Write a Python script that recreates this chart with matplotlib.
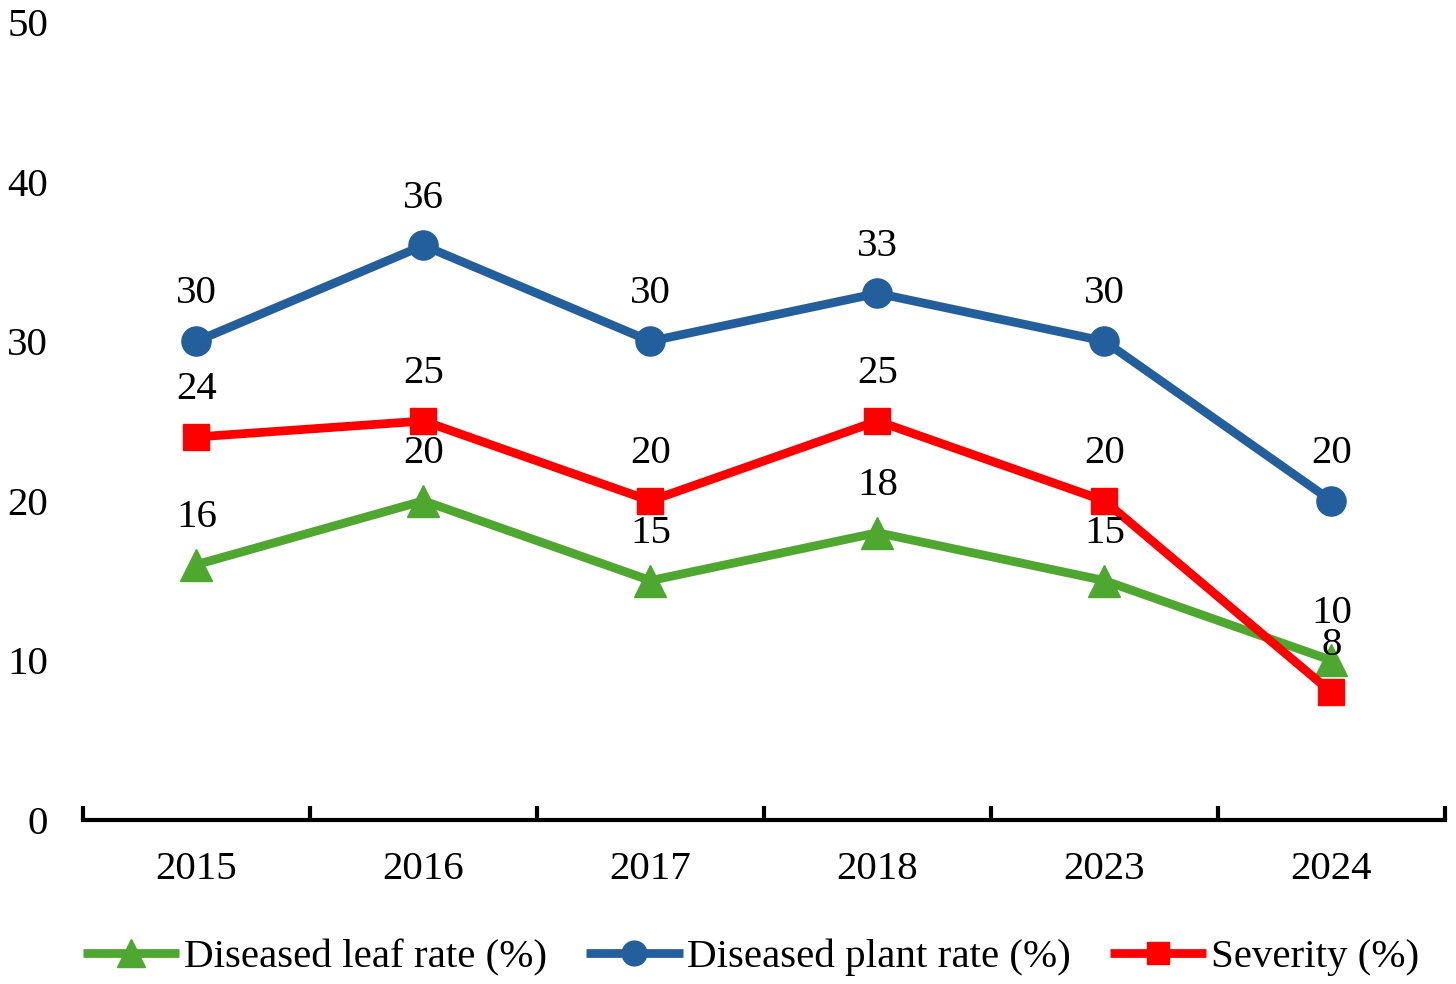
import matplotlib
matplotlib.use("Agg")
import matplotlib.pyplot as plt
from matplotlib.ticker import FixedLocator, NullFormatter

years = ["2015", "2016", "2017", "2018", "2023", "2024"]
leaf_rate = [16, 20, 15, 18, 15, 10]
plant_rate = [30, 36, 30, 33, 30, 20]
severity = [24, 25, 20, 25, 20, 8]
y_ticks = [0, 10, 20, 30, 40, 50]

plt.rcParams['font.family'] = ['Liberation Serif', 'DejaVu Serif']
FS = 29.5

fig = plt.figure(figsize=(14.56, 9.84), dpi=100)
ax = fig.add_axes([0.057, 0.1667, 0.9354, 0.8109])

x = list(range(len(years)))
series = [
    (leaf_rate, "#4EA72E", "^", 23, "Diseased leaf rate (%)"),
    (plant_rate, "#235F9C", "o", 21, "Diseased plant rate (%)"),
    (severity, "#FF0000", "s", 19, "Severity (%)"),
]
for vals, col, mk, ms, lab in series:
    ax.plot(x, vals, color=col, marker=mk, markersize=ms, linewidth=6.3,
            label=lab, solid_capstyle='butt', clip_on=False)

for vals, col, mk, ms, lab in series:
    for xi, v in zip(x, vals):
        ax.annotate(str(v), (xi, v), xytext=(0, 34), textcoords='offset points',
                    ha='center', va='center', fontsize=FS, zorder=10)

ax.set_xlim(-0.5, len(years) - 0.5)
ax.set_ylim(0, 50)
ax.set_yticks(y_ticks)
ax.set_yticklabels([str(t) for t in y_ticks], fontsize=FS)
ax.tick_params(axis='y', length=0, pad=25)

ax.xaxis.set_major_locator(FixedLocator([i - 0.5 for i in range(len(years) + 1)]))
ax.xaxis.set_major_formatter(NullFormatter())
ax.xaxis.set_minor_locator(FixedLocator(x))
ax.set_xticklabels(years, minor=True, fontsize=FS)
ax.tick_params(axis='x', which='major', direction='in', length=10, width=3)
ax.tick_params(axis='x', which='minor', length=0, pad=22)

for s in ['top', 'right', 'left']:
    ax.spines[s].set_visible(False)
ax.spines['bottom'].set_linewidth(3)

leg = fig.legend(loc='center', bbox_to_anchor=(0.516, 0.027), ncol=3, frameon=False,
                 fontsize=FS, handlelength=2.35, handletextpad=0.12, columnspacing=0.95,
                 markerscale=0.85)

fig.savefig("out.png", dpi=100)
